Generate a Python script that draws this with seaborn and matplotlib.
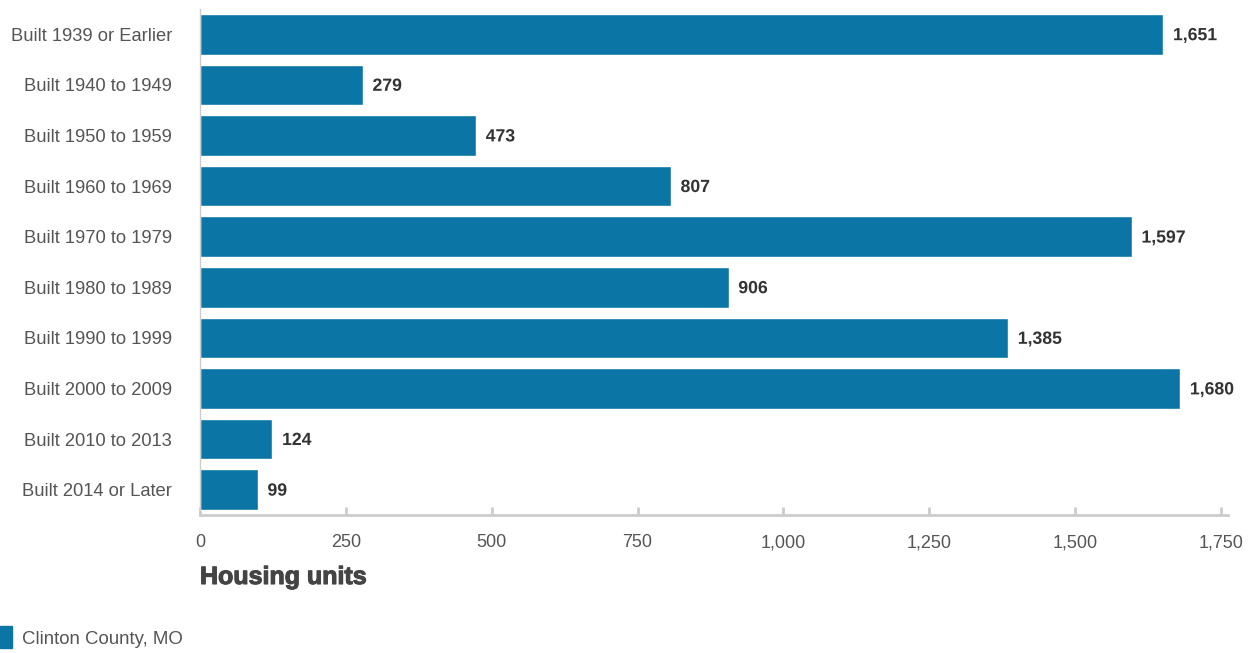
import matplotlib
matplotlib.use("Agg")
import matplotlib.pyplot as plt
import matplotlib.patheffects as pe
import seaborn as sns
import pandas as pd

categories = ["Built 1939 or Earlier", "Built 1940 to 1949", "Built 1950 to 1959",
              "Built 1960 to 1969", "Built 1970 to 1979", "Built 1980 to 1989",
              "Built 1990 to 1999", "Built 2000 to 2009", "Built 2010 to 2013",
              "Built 2014 or Later"]
values = [1651, 279, 473, 807, 1597, 906, 1385, 1680, 124, 99]
x_ticks = [0, 250, 500, 750, 1000, 1250, 1500, 1750]
series_name = "Clinton County, MO"
x_title = "Housing units"

sns.set_theme(style="white")
plt.rcParams["font.family"] = ["Liberation Sans", "DejaVu Sans"]

df = pd.DataFrame({"category": categories, "value": values})

fig = plt.figure(figsize=(12.58, 6.53), dpi=100)
ax = fig.add_axes([200/1258, 1 - 515/653, 1028/1258, (515 - 9)/653])

bar_color = "#0b75a5"
sns.barplot(data=df, y="category", x="value", orient="h", color=bar_color,
            width=0.8, saturation=1, ax=ax)

ax.set_xlim(0, 1028 / (1021 / 1750))
ax.set_ylim(len(categories) - 0.5, -0.5)

for i, v in enumerate(values):
    ax.annotate(f"{v:,}", xy=(v, i), xytext=(7, -1), textcoords="offset points",
                va="center", ha="left", fontsize=12.7, fontweight="bold", color="#333333",
                path_effects=[pe.withStroke(linewidth=3, foreground="white")])

ax.set_xticks(x_ticks)
ax.set_xticklabels([f"{t:,}" for t in x_ticks], fontsize=13, color="#555555")
ax.tick_params(axis="x", bottom=True, direction="in", length=6, width=2,
               color="#cccccc", pad=14)
ax.tick_params(axis="y", left=False, length=0, pad=20, labelsize=13.2, labelcolor="#555555")
ax.set_ylabel("")
ax.set_xlabel("")

for s in ["top", "right"]:
    ax.spines[s].set_visible(False)
ax.spines["bottom"].set_color("#cccccc")
ax.spines["bottom"].set_linewidth(2)
ax.spines["left"].set_color("#cccccc")
ax.spines["left"].set_linewidth(1)

fig.text(200/1258, 1 - 577/653, x_title, fontsize=18, fontweight="bold",
         color="#444444", ha="left", va="center",
         path_effects=[pe.withStroke(linewidth=0.8, foreground="#444444")])

fig.patches.append(plt.Rectangle((0, 1 - 648/653), 12/1258, 22/653,
                                 transform=fig.transFigure, color=bar_color, figure=fig))
fig.text(22/1258, 1 - 640/653, series_name, fontsize=13.4, color="#555555",
         ha="left", va="center")

fig.savefig("out.png", dpi=100)
